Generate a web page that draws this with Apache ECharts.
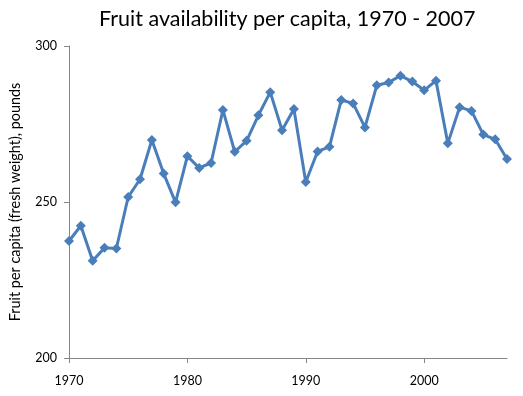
<!DOCTYPE html>
<html><head><meta charset="utf-8">
<script src="https://cdn.jsdelivr.net/npm/echarts@6/dist/echarts.min.js"></script>
<style>html,body{margin:0;padding:0;background:#fff}#c{width:523px;height:396px}</style>
</head><body><div id="c"></div>
<script>
var years = [1970,1971,1972,1973,1974,1975,1976,1977,1978,1979,1980,1981,1982,1983,1984,1985,1986,1987,1988,1989,1990,1991,1992,1993,1994,1995,1996,1997,1998,1999,2000,2001,2002,2003,2004,2005,2006,2007];
var fruit = [237.5,242.4,231.2,235.3,235.1,251.6,257.3,269.9,259.1,249.9,264.7,260.9,262.5,279.5,266.1,269.6,277.8,285.2,273.0,279.8,256.4,266.2,267.7,282.7,281.6,273.9,287.4,288.3,290.5,288.6,285.8,288.9,268.8,280.4,279.2,271.6,270.1,263.8];
var titleText = 'Fruit availability per capita, 1970 - 2007';
var yName = 'Fruit per capita (fresh weight), pounds';

var chart = echarts.init(document.getElementById('c'));
var font = 'Lato, "Open Sans", sans-serif';
chart.setOption({
  animation: false,
  title: {text: titleText, left: 94, top: 3,
    textStyle: {fontFamily: font, fontSize: 21.5, fontWeight: 'normal', color: '#000'}},
  grid: {left: 62, right: 16, top: 46, bottom: 38},
  xAxis: {type: 'value', min: 1970, max: 2007, interval: 10,
    axisLine: {lineStyle: {color: '#868686', width: 1}},
    axisTick: {show: true, length: 5, lineStyle: {color: '#868686'}},
    splitLine: {show: false},
    axisLabel: {color: '#000', fontFamily: font, fontSize: 12.5, margin: 16,
      showMaxLabel: false, formatter: function(v){return String(v);}}
  },
  yAxis: {type: 'value', min: 200, max: 300, interval: 50,
    name: yName, nameLocation: 'middle', nameGap: 47,
    nameTextStyle: {fontFamily: font, fontSize: 14.4, color: '#000'},
    axisLine: {show: true, lineStyle: {color: '#868686', width: 1}},
    axisTick: {show: true, length: 5, lineStyle: {color: '#868686'}},
    splitLine: {show: false},
    axisLabel: {color: '#000', fontFamily: font, fontSize: 12.5, margin: 12}
  },
  series: [{type: 'line', data: years.map(function(y,i){return [y, fruit[i]];}),
    symbol: 'diamond', symbolSize: 10, showAllSymbol: true,
    lineStyle: {color: '#4A7EBB', width: 3},
    itemStyle: {color: '#4A7EBB'}}]
});
</script></body></html>
